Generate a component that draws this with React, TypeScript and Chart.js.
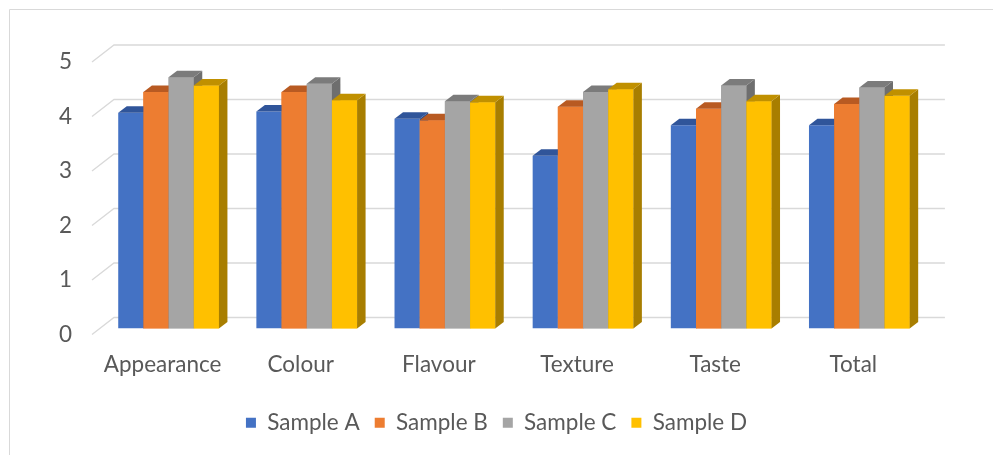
import React, { useEffect, useRef } from "react";
import { Chart, registerables } from "chart.js";

Chart.register(...registerables);

const categories = ["Appearance", "Colour", "Flavour", "Texture", "Taste", "Total"];
const seriesNames = ["Sample A", "Sample B", "Sample C", "Sample D"];
const sampleA = [3.96, 3.98, 3.85, 3.17, 3.73, 3.73];
const sampleB = [4.34, 4.34, 3.82, 4.07, 4.03, 4.12];
const sampleC = [4.61, 4.49, 4.17, 4.34, 4.46, 4.42];
const sampleD = [4.46, 4.19, 4.15, 4.39, 4.17, 4.27];
const yTicks = [0, 1, 2, 3, 4, 5];

const frontColors = ["#4472C4", "#ED7D31", "#A5A5A5", "#FFC000"];
const topColors = ["#30559A", "#B85A22", "#7B7B7B", "#C09000"];
const sideColors = ["#2B4C8A", "#A04E1C", "#6E6E6E", "#A87E00"];

const TEXT = "#595959";
const GRID = "#D9D9D9";
const FONT = "Lato, 'Open Sans', sans-serif";
const FONT_SIZE = 22.5;

// depth geometry (pixels)
const BAR_DX = 8.5;
const BAR_DY = 6.5;
const WALL_FRONT_DX = -7.5;
const WALL_FRONT_DY = 6;
const WALL_BACK_DX = 14.5;
const WALL_BACK_DY = -11;

const depthPlugin = {
  id: "depth3d",
  beforeDraw(chart: any) {
    const ctx = chart.ctx;
    ctx.save();
    ctx.strokeStyle = GRID;
    ctx.lineWidth = 1;
    ctx.beginPath();
    ctx.moveTo(9.5, chart.height);
    ctx.lineTo(9.5, 9.5);
    ctx.lineTo(chart.width, 9.5);
    ctx.stroke();
    ctx.restore();
  },
  beforeDatasetsDraw(chart: any) {
    const ctx = chart.ctx;
    const y = chart.scales.y;
    const area = chart.chartArea;
    ctx.save();
    ctx.strokeStyle = GRID;
    ctx.lineWidth = 1.3;
    yTicks.forEach((v) => {
      const yb = y.getPixelForValue(v);
      ctx.beginPath();
      ctx.moveTo(area.left + WALL_FRONT_DX, yb + WALL_FRONT_DY);
      ctx.lineTo(area.left + WALL_BACK_DX, yb + WALL_BACK_DY);
      ctx.lineTo(area.right + WALL_BACK_DX + 2, yb + WALL_BACK_DY);
      ctx.stroke();
    });
    ctx.restore();
  },
  afterDatasetsDraw(chart: any) {
    const ctx = chart.ctx;
    const n = chart.data.datasets.length;
    const metas = [];
    for (let i = 0; i < n; i++) metas.push(chart.getDatasetMeta(i));
    ctx.save();
    for (let c = 0; c < categories.length; c++) {
      for (let i = 0; i < n; i++) {
        const el = metas[i].data[c];
        const p = el.getProps(["x", "y", "base", "width"], true);
        const x1 = p.x - p.width / 2;
        const x2 = p.x + p.width / 2;
        const yt = p.y;
        const yb = p.base;
        // side face
        ctx.fillStyle = sideColors[i];
        ctx.beginPath();
        ctx.moveTo(x2, yt);
        ctx.lineTo(x2 + BAR_DX, yt - BAR_DY);
        ctx.lineTo(x2 + BAR_DX, yb - BAR_DY);
        ctx.lineTo(x2, yb);
        ctx.closePath();
        ctx.fill();
        // top face
        ctx.fillStyle = topColors[i];
        ctx.beginPath();
        ctx.moveTo(x1, yt);
        ctx.lineTo(x1 + BAR_DX, yt - BAR_DY);
        ctx.lineTo(x2 + BAR_DX, yt - BAR_DY);
        ctx.lineTo(x2, yt);
        ctx.closePath();
        ctx.fill();
        // repaint next bar's front face over this side face
        if (i + 1 < n) {
          const el2 = metas[i + 1].data[c];
          const q = el2.getProps(["x", "y", "base", "width"], true);
          ctx.fillStyle = frontColors[i + 1];
          ctx.fillRect(q.x - q.width / 2, q.y, q.width, q.base - q.y);
        }
      }
    }
    ctx.restore();
  },
};

export default function App() {
  const ref = useRef<HTMLCanvasElement>(null);
  useEffect(() => {
    const canvas = ref.current;
    if (!canvas) return;
    const series = [sampleA, sampleB, sampleC, sampleD];
    const chart = new Chart(canvas, {
      type: "bar",
      data: {
        labels: categories,
        datasets: series.map((d, i) => ({
          label: seriesNames[i],
          data: d,
          backgroundColor: frontColors[i],
          borderWidth: 0,
          categoryPercentage: 0.729,
          barPercentage: 1.0,
        })),
      },
      options: {
        responsive: false,
        animation: false,
        layout: { padding: { top: 56, left: 0, right: 0, bottom: 11 } },
        plugins: {
          legend: {
            position: "bottom",
            labels: {
              boxWidth: 10,
              boxHeight: 10,
              padding: 15,
              color: TEXT,
              font: { family: FONT, size: FONT_SIZE },
            },
          },
          tooltip: { enabled: false },
        },
        scales: {
          x: {
            grid: { display: false, drawTicks: false },
            border: { display: false },
            ticks: {
              color: TEXT,
              font: { family: FONT, size: FONT_SIZE },
              padding: 23,
              labelOffset: -6,
              maxRotation: 0,
            },
            afterFit: (s: any) => {
              s.height = 68;
            },
          },
          y: {
            min: 0,
            max: 5,
            grid: { display: false, drawTicks: false },
            border: { display: false },
            ticks: {
              stepSize: 1,
              color: TEXT,
              font: { family: FONT, size: FONT_SIZE },
              padding: 27.5,
              labelOffset: 6,
            },
            afterFit: (s: any) => {
              s.width = 99.5;
            },
          },
          y2: {
            position: "right",
            grid: { display: false, drawTicks: false },
            border: { display: false },
            ticks: { display: false },
            afterFit: (s: any) => {
              s.width = 64.6;
            },
          },
        },
      },
      plugins: [depthPlugin],
    });
    return () => chart.destroy();
  }, []);
  return (
    <canvas
      ref={ref}
      width={993}
      height={455}
      style={{ position: "fixed", left: 0, top: 0, width: 993, height: 455, display: "block" }}
    />
  );
}
